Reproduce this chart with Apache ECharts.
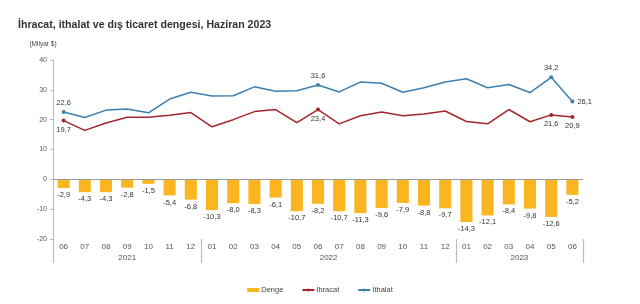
<!DOCTYPE html>
<html>
<head>
<meta charset="utf-8">
<script src="https://cdn.jsdelivr.net/npm/echarts@6/dist/echarts.min.js"></script>
<style>
    html, body { margin: 0; padding: 0; background: #fff; }
    #chart { width: 640px; height: 304px; }
</style>
</head>
<body>
<div id="chart"></div>
<script>
    // aylar: 2021/06 - 2023/06
    var months = ['06','07','08','09','10','11','12',
        '01','02','03','04','05','06','07','08','09','10','11','12',
        '01','02','03','04','05','06'];
    var years = ['2021', '2022', '2023'];
    var yearStartIdx = [0, 7, 19]; // her yilin ilk ayi

    var denge = [-2.9, -4.3, -4.3, -2.8, -1.5, -5.4, -6.8,
        -10.3, -8.0, -8.3, -6.1, -10.7, -8.2, -10.7, -11.3, -9.6, -7.9, -8.8, -9.7,
        -14.3, -12.1, -8.4, -9.8, -12.6, -5.2];
    var ihracat = [19.7, 16.4, 18.9, 20.8, 20.8, 21.5, 22.4,
        17.6, 20.0, 22.7, 23.4, 19.0, 23.4, 18.6, 21.3, 22.6, 21.3, 21.9, 22.9,
        19.4, 18.6, 23.4, 19.3, 21.6, 20.9];
    var ithalat = [22.6, 20.7, 23.2, 23.6, 22.3, 26.9, 29.2,
        27.9, 28.0, 31.0, 29.5, 29.7, 31.6, 29.3, 32.6, 32.2, 29.2, 30.7, 32.6,
        33.7, 30.7, 31.8, 29.1, 34.2, 26.1];
    var labeledIdx = [0, 12, 23, 24]; // etiketli noktalar
    var yTicks = [-20, -10, 0, 10, 20, 30, 40];

    var fmt = function (v) { return v.toFixed(1).replace('.', ','); };

    // yil ekseni: yarim ay adimli nokta ekseni (0..50)
    var yearAxis = [];
    for (var j = 0; j <= months.length * 2; j++) yearAxis.push('');
    var yearTickPos = [0, months.length * 2];
    for (var k = 0; k < years.length; k++) {
        var first = yearStartIdx[k];
        var last = k + 1 < years.length ? yearStartIdx[k + 1] - 1 : months.length - 1;
        yearAxis[first + last + 1] = years[k]; // orta nokta
        if (k > 0) yearTickPos.push(first * 2);
    }

    function pointSeries(vals, pos) {
        return vals.map(function (v, i) {
            var show = labeledIdx.indexOf(i) >= 0;
            var p = typeof pos === 'function' ? pos(i) : pos;
            return {
                value: v,
                symbolSize: show ? 4 : 0,
                label: { show: show, position: p, formatter: function () { return fmt(v); } }
            };
        });
    }

    var myChart = echarts.init(document.getElementById('chart'));
    myChart.setOption({
        animation: false,
        textStyle: { fontFamily: 'Liberation Sans, Arial, sans-serif' },
        title: {
            text: 'İhracat, ithalat ve dış ticaret dengesi, Haziran 2023',
            left: 13,
            top: 15,
            textStyle: { fontSize: 10.6, fontWeight: 'bold', color: '#333', fontFamily: 'Liberation Sans' }
        },
        color: ['#fbb520', '#a3282d', '#3c7fb1'],
        legend: {
            bottom: 5,
            left: 'center',
            itemGap: 18,
            itemWidth: 12,
            itemHeight: 4,
            textStyle: { fontSize: 7.5, color: '#444', padding: [0, 0, 0, -3] },
            data: [
                { name: 'Denge', icon: 'rect', itemStyle: { color: '#fbb520' } },
                { name: 'İhracat' },
                { name: 'İthalat' }
            ]
        },
        grid: { left: 53, right: 57, top: 60, bottom: 65 },
        xAxis: [{
            type: 'category',
            data: months,
            axisLine: { show: false, onZero: false },
            axisTick: { show: false },
            axisLabel: { fontSize: 8, color: '#555', margin: 4 }
        }, {
            type: 'category',
            data: yearAxis,
            boundaryGap: false,
            position: 'bottom',
            axisLine: { show: false, onZero: false },
            axisTick: {
                show: true,
                length: 24,
                interval: function (idx) { return yearTickPos.indexOf(idx) >= 0; },
                lineStyle: { color: '#bbb', width: 1.2 }
            },
            axisLabel: { fontSize: 8, color: '#555', margin: 15, interval: 0 }
        }],
        yAxis: {
            type: 'value',
            min: yTicks[0],
            max: yTicks[yTicks.length - 1],
            interval: 10,
            name: '(Milyar $)',
            nameLocation: 'end',
            nameGap: 12,
            nameTextStyle: { fontSize: 6.5, color: '#444', align: 'center', padding: [0, 20, 0, 0] },
            axisLine: { show: true, lineStyle: { color: '#bbb' } },
            axisTick: { show: true, length: 3, lineStyle: { color: '#bbb' } },
            axisLabel: { fontSize: 7, color: '#555', margin: 6 },
            splitLine: { show: false }
        },
        series: [
            {
                name: 'Denge',
                type: 'bar',
                barWidth: '57%',
                data: denge,
                label: {
                    show: true,
                    position: 'bottom',
                    distance: 3,
                    fontSize: 7.5,
                    color: '#333',
                    formatter: function (p) { return fmt(p.value); }
                },
                markLine: {
                    silent: true,
                    symbol: 'none',
                    label: { show: false },
                    lineStyle: { color: '#999', width: 1, type: 'solid' },
                    data: [{ yAxis: 0 }]
                }
            },
            {
                name: 'İhracat',
                type: 'line',
                symbol: 'circle',
                lineStyle: { width: 1.5 },
                label: { fontSize: 7.5, color: '#333', distance: 3 },
                data: pointSeries(ihracat, 'bottom')
            },
            {
                name: 'İthalat',
                type: 'line',
                symbol: 'circle',
                lineStyle: { width: 1.5 },
                label: { fontSize: 7.5, color: '#333', distance: 3 },
                data: pointSeries(ithalat, function (i) { return i === 24 ? 'right' : 'top'; })
            }
        ]
    });
</script>
</body>
</html>
